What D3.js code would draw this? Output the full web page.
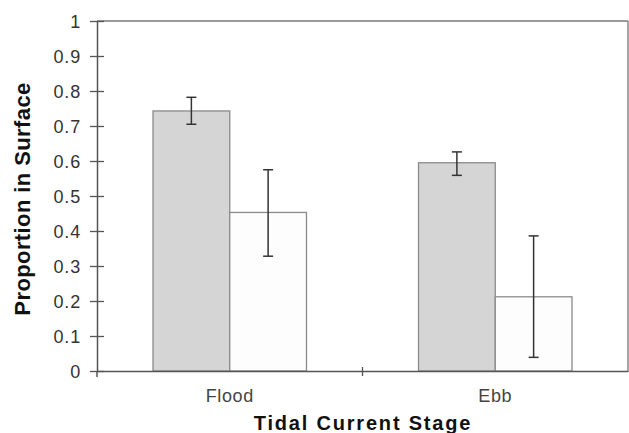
<!DOCTYPE html>
<html>
<head>
<meta charset="utf-8">
<script src="https://cdn.jsdelivr.net/npm/d3@7"></script>
<style>
  body { margin: 0; background: #fff; }
  text { font-family: Arial, "Liberation Sans", sans-serif; }
</style>
</head>
<body>
<div id="chart"></div>
<script>
// data
var categories = ["Flood", "Ebb"];
var series = ["a", "b"];
var means = [[0.743, 0.453], [0.595, 0.212]];
var errLow = [[0.705, 0.328], [0.559, 0.039]];
var errHigh = [[0.782, 0.575], [0.626, 0.386]];
var yTicks = [0, 0.1, 0.2, 0.3, 0.4, 0.5, 0.6, 0.7, 0.8, 0.9, 1];

var rows = [];
categories.forEach(function(c, i) {
  series.forEach(function(s, j) {
    rows.push({cat: c, s: s, v: means[i][j], lo: errLow[i][j], hi: errHigh[i][j]});
  });
});

var W = 629, H = 433;
var margin = {top: 21, right: 1, bottom: 62, left: 97},
    width = W - margin.left - margin.right,
    height = H - margin.top - margin.bottom;

var svg = d3.select("#chart")
  .append("svg")
    .attr("width", W)
    .attr("height", H)
  .append("g")
    .attr("transform", "translate(" + margin.left + "," + margin.top + ")");

var x0 = d3.scaleBand().domain(categories).range([0, width]).padding(0);
var x1 = d3.scaleBand().domain(series).range([0, x0.bandwidth()])
  .paddingInner(0).paddingOuter(0.73);
var y = d3.scaleLinear().domain([0, 1]).range([height, 0]);

var fills = {a: "#d5d5d5", b: "#fdfdfd"};

// plot frame (top and right)
svg.append("line").attr("x1", 0).attr("x2", width).attr("y1", 0).attr("y2", 0)
  .attr("stroke", "#777").attr("stroke-width", 1.5);
svg.append("line").attr("x1", width).attr("x2", width).attr("y1", 0).attr("y2", height)
  .attr("stroke", "#888").attr("stroke-width", 1.5);

// bars
svg.selectAll("rect.bar")
  .data(rows)
  .enter()
  .append("rect")
    .attr("class", "bar")
    .attr("x", function(d) { return x0(d.cat) + x1(d.s); })
    .attr("y", function(d) { return y(d.v); })
    .attr("width", x1.bandwidth())
    .attr("height", function(d) { return height - y(d.v); })
    .attr("fill", function(d) { return fills[d.s]; })
    .attr("stroke", "#8a8a8a")
    .attr("stroke-width", 1.3);

// error bars
var eb = svg.selectAll("g.err")
  .data(rows)
  .enter()
  .append("g")
    .attr("class", "err")
    .attr("transform", function(d) { return "translate(" + (x0(d.cat) + x1(d.s) + x1.bandwidth() / 2) + ",0)"; });
eb.append("line")
  .attr("y1", function(d) { return y(d.hi); })
  .attr("y2", function(d) { return y(d.lo); })
  .attr("stroke", "#333").attr("stroke-width", 1.5);
eb.append("line")
  .attr("x1", -5).attr("x2", 5)
  .attr("y1", function(d) { return y(d.hi); })
  .attr("y2", function(d) { return y(d.hi); })
  .attr("stroke", "#333").attr("stroke-width", 1.5);
eb.append("line")
  .attr("x1", -5).attr("x2", 5)
  .attr("y1", function(d) { return y(d.lo); })
  .attr("y2", function(d) { return y(d.lo); })
  .attr("stroke", "#333").attr("stroke-width", 1.5);

// y axis
var yAxis = svg.append("g")
  .call(d3.axisLeft(y).tickValues(yTicks).tickFormat(d3.format("")).tickSizeInner(7).tickSizeOuter(0).tickPadding(10));
yAxis.select(".domain").attr("stroke", "#555").attr("stroke-width", 1.5);
yAxis.selectAll(".tick line").attr("x2", 7).attr("x1", -7).attr("stroke", "#555").attr("stroke-width", 1.3);
yAxis.selectAll("text").attr("font-size", 18).attr("fill", "#333").attr("letter-spacing", 0.8)
  .attr("x", -16).attr("dy", "0.36em");

// x axis
var xAxis = svg.append("g")
  .attr("transform", "translate(0," + height + ")")
  .call(d3.axisBottom(x0).tickSize(0).tickPadding(19));
xAxis.select(".domain").attr("stroke", "#555").attr("stroke-width", 1.5);
xAxis.selectAll("text").attr("font-size", 18).attr("fill", "#444").attr("letter-spacing", 0.6)
  .attr("y", 18).attr("dy", "0.71em");
// divider tick between categories
xAxis.append("line")
  .attr("x1", x0("Ebb")).attr("x2", x0("Ebb"))
  .attr("y1", -4).attr("y2", 5)
  .attr("stroke", "#555").attr("stroke-width", 1.3);
xAxis.append("line")
  .attr("x1", 0).attr("x2", 0).attr("y1", 0).attr("y2", 6)
  .attr("stroke", "#555").attr("stroke-width", 1.5);

// axis titles
svg.append("text")
  .attr("transform", "translate(" + (-67) + "," + (height / 2 + 3) + ") rotate(-90)")
  .attr("text-anchor", "middle")
  .attr("font-size", 22).attr("font-weight", "bold").attr("fill", "#111")
  .attr("letter-spacing", 0.4)
  .text("Proportion in Surface");

svg.append("text")
  .attr("x", 266).attr("y", height + 59)
  .attr("text-anchor", "middle")
  .attr("font-size", 20).attr("font-weight", "bold").attr("fill", "#111")
  .attr("letter-spacing", 1.8)
  .text("Tidal Current Stage");
</script>
</body>
</html>
